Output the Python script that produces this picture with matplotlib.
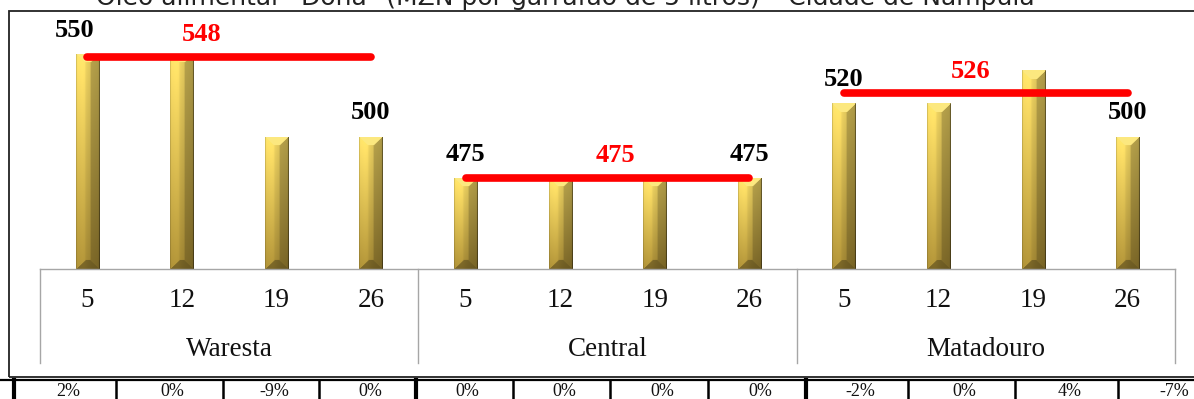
import matplotlib.pyplot as plt
import numpy as np
from matplotlib.patches import Rectangle
from matplotlib.transforms import blended_transform_factory

# Prices of "Dona" cooking oil (MZN per 5 L jug), weekly, per market
markets = ['Waresta', 'Central', 'Matadouro']
days = ['5', '12', '19', '26']
waresta = [550, 550, 500, 500]
central = [475, 475, 475, 475]
matadouro = [520, 520, 540, 500]
averages = [548, 475, 526]
changes = ['2%', '0%', '-9%', '0%', '0%', '0%', '0%', '0%', '-2%', '0%', '4%', '-7%']

title = 'Óleo alimentar "Dona" (MZN por garrafão de 5 litros) – Cidade de Nampula'

SERIF = 'Liberation Serif'
W, H = 1194, 399

fig = plt.figure(figsize=(W / 100, H / 100), dpi=100)
fig.patch.set_facecolor('white')

# chart frame and title
fig.patches.append(Rectangle((9 / W, (H - 377) / H), 1.2, (377 - 11) / H,
                             transform=fig.transFigure, fill=False,
                             edgecolor='#222222', linewidth=1.3))
fig.text(565 / W, 1 - 5 / H, title, ha='center', va='baseline',
         fontsize=18, family='DejaVu Sans', color='#222222')

ax = fig.add_axes([40 / W, (H - 269) / H, 1135 / W, 265 / H])
ax.set_xlim(-0.5, 11.5)
ax.set_ylim(420, 580)
for s in ['top', 'left', 'right']:
    ax.spines[s].set_visible(False)
ax.spines['bottom'].set_color('#a6a6a6')
ax.spines['bottom'].set_linewidth(1.0)
ax.set_xticks([])
ax.set_yticks([])
ax.patch.set_alpha(0)

series = [waresta, central, matadouro]
values = [v for s in series for v in s]
xs = np.arange(len(values))
bw = 0.245
bars = ax.bar(xs, values, width=bw, bottom=0, color='#e2c04a', linewidth=0, zorder=2)


def bar_image(nx, ny):
    # gold bar with bevelled edges
    u = np.linspace(1, 0, ny)[:, None] * np.ones((1, nx))
    t = np.ones((ny, 1)) * np.linspace(0, 1, nx)[None, :]
    top = np.array([0.97, 0.86, 0.40])
    bot = np.array([0.66, 0.55, 0.21])
    body = bot + (top - bot) * u[..., None]
    shade = 1.0 + 0.06 * np.exp(-((t - 0.3) / 0.2) ** 2) - 0.14 * t
    img = body * shade[..., None]
    col = np.arange(nx)[None, :] * np.ones((ny, 1))
    row = np.arange(ny)[:, None] * np.ones((1, nx))
    dl, dr = col, nx - 1 - col
    dt, db = row, ny - 1 - row
    b = 9
    dmin = np.minimum(np.minimum(dl, dr), np.minimum(dt, db))
    edge = dmin < b
    top_m = edge & (dt == dmin)
    left_m = edge & (dl == dmin) & ~top_m
    right_m = edge & (dr == dmin) & ~top_m
    bot_m = edge & (db == dmin) & ~(left_m | right_m | top_m)
    img[top_m] = np.array([0.99, 0.91, 0.50])
    img[left_m] = np.clip(img[left_m] * 1.05, 0, 1)
    img[right_m] = img[right_m] * 0.82
    img[bot_m] = img[bot_m] * 0.72
    img[:, 0] *= 0.85
    img[:, -1] *= 0.6
    return np.clip(img, 0, 1)


for rect in bars:
    x0, x1 = rect.get_x(), rect.get_x() + rect.get_width()
    y1 = rect.get_height()
    (px0, py0), (px1, py1) = ax.transData.transform([(x0, 420), (x1, y1)])
    nx, ny = max(int(round(px1 - px0)), 4), max(int(round(py1 - py0)), 4)
    im = ax.imshow(bar_image(nx, ny), extent=(x0, x1, 420, y1), origin='upper',
                   aspect='auto', interpolation='bilinear', zorder=2)
    im.set_clip_path(rect)

# weekly values on first and last bar of each market (x nudges in points)
value_nudge = [(-9, 0), (0, 0), (0, 0)]
for g, s in enumerate(series):
    for j, i in enumerate((0, len(s) - 1)):
        ax.annotate(str(s[i]), (g * 4 + i, s[i]), xytext=(value_nudge[g][j], 17),
                    textcoords='offset points', ha='center', va='center',
                    fontsize=19, fontweight='bold', family=SERIF, zorder=4)

# market average lines
avg_nudge = [-20, 6, -11]
for g, avg in enumerate(averages):
    ax.plot([g * 4, g * 4 + 3], [avg, avg], color='#ff0000', linewidth=5.5,
            solid_capstyle='round', zorder=3)
    ax.annotate(str(avg), (g * 4 + 1.5, avg), xytext=(avg_nudge[g], 16),
                textcoords='offset points', ha='center', va='center',
                fontsize=19, fontweight='bold', family=SERIF,
                color='#ff0000', zorder=4)

# two-level category axis
trans = blended_transform_factory(ax.transData, ax.transAxes)
for i, x in enumerate(xs):
    ax.text(x, -0.117, days[i % 4], transform=trans, ha='center', va='center',
            fontsize=19.5, family=SERIF, color='#111111')
for g, m in enumerate(markets):
    ax.text(g * 4 + 1.5, -0.302, m, transform=trans, ha='center', va='center',
            fontsize=19.5, family=SERIF, color='#111111')
for xb in [-0.5, 3.5, 7.5, 11.5]:
    ax.plot([xb, xb], [0, -0.355], transform=trans, color='#a6a6a6',
            linewidth=1.0, clip_on=False)

# change row underneath
cell_edges = [14, 116, 223, 319, 416, 513, 610, 708, 806, 908, 1015, 1118, 1224]
fig.add_artist(plt.Line2D([0, 1], [(H - 379.5) / H] * 2, transform=fig.transFigure,
                          color='black', linewidth=1.6))
for k, xe in enumerate(cell_edges[:-1]):
    lw = 3.0 if k % 4 == 0 else 1.8
    fig.add_artist(plt.Line2D([xe / W] * 2, [0, (H - 379.5) / H],
                              transform=fig.transFigure, color='black', linewidth=lw))
for k, c in enumerate(changes):
    xc = (cell_edges[k] + cell_edges[k + 1]) / 2 + 3
    fig.text(xc / W, 3.5 / H, c, ha='center', va='baseline',
             fontsize=13, family=SERIF, color='#111111')

fig.savefig('out.png', dpi=100)
